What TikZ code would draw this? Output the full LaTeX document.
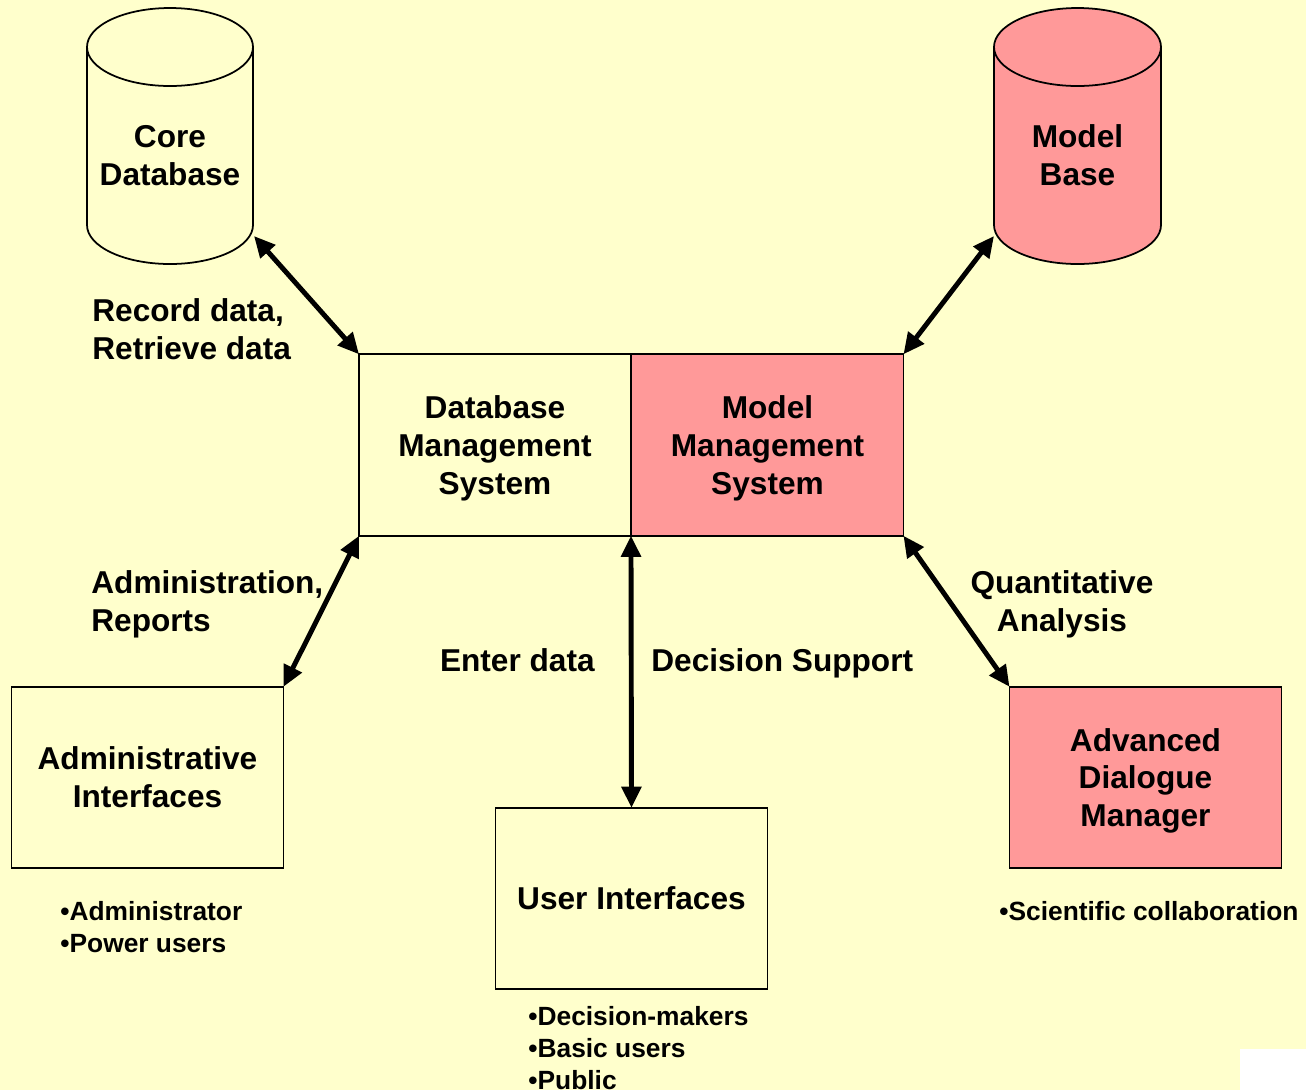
\documentclass[tikz,border=0pt]{standalone}
\usepackage{fontspec}
\setmainfont{Liberation Sans}
\usetikzlibrary{arrows.meta}
\definecolor{paper}{HTML}{FFFFCC}
\definecolor{salmon}{HTML}{FF9999}

\begin{document}
\begin{tikzpicture}[x=0.02cm,y=0.02cm,
  box/.style={draw,line width=1pt,outer sep=0pt,minimum width=5.44cm,minimum height=3.63cm,align=center,text depth=0pt,font=\bfseries\fontsize{18}{21.6}\selectfont},
  lbl/.style={inner sep=0pt,text depth=0pt,font=\bfseries\fontsize{18}{21.6}\selectfont},
  note/.style={inner sep=0pt,align=left,anchor=west,font=\bfseries\fontsize{15}{18}\selectfont},
  link/.style={line width=2.8pt,{Triangle[length=12pt,width=11pt]}-{Triangle[length=12pt,width=11pt]}}]
\useasboundingbox (0,0) rectangle (1306,-1090);
\fill [paper] (0,0) rectangle (1306,-1090);
\fill [white] (1240,-1049) rectangle (1306,-1090);

% the two stores
\draw [line width=1pt] (87,-47) -- (87,-225) arc [start angle=180,end angle=360,x radius=83,y radius=39] -- (253,-47) arc [start angle=0,end angle=180,x radius=83,y radius=39] -- cycle;
\draw [line width=1pt] (87,-47) arc [start angle=180,end angle=360,x radius=83,y radius=39];
\draw [line width=1pt,fill=salmon] (994,-47) -- (994,-225) arc [start angle=180,end angle=360,x radius=83.5,y radius=39] -- (1161,-47) arc [start angle=0,end angle=180,x radius=83.5,y radius=39] -- cycle;
\draw [line width=1pt] (994,-47) arc [start angle=180,end angle=360,x radius=83.5,y radius=39];
\node [lbl,align=center] (coreDB) at (170,-155) {Core\\Database};
\node [lbl,align=center] (modelBase) at (1077.5,-155) {Model\\Base};
\coordinate (corePort) at (254,-236);
\coordinate (modelPort) at (994,-236);

% boxes
\node [box] (dbms) at (495,-445) {Database\\Management\\System};
\node [box,fill=salmon] (mms) at (767.5,-445) {Model\\Management\\System};
\node [box] (admin) at (147.5,-777.5) {Administrative\\Interfaces};
\node [box] (ui) at (631.5,-898.5) {User Interfaces};
\node [box,fill=salmon] (adm) at (1145.5,-777.5) {Advanced\\Dialogue\\Manager};

\draw [link] (corePort) -- (dbms.north west);
\draw [link] (modelPort) -- (mms.north east);
\draw [link] (dbms.south west) -- (admin.north east);
\draw [link] (dbms.south east) -- (ui.north);
\draw [link] (mms.south east) -- (adm.north west);

\node [lbl,align=left,anchor=west] (recLbl) at (92,-329) {Record data,\\Retrieve data};
\node [lbl,align=left,anchor=west] (adminLbl) at (91,-601) {Administration,\\Reports};
\node [lbl,anchor=east] (enterLbl) at (595,-660) {Enter data};
\node [lbl,anchor=west] (decLbl) at (651,-660) {Decision Support};
\node [lbl,align=center] (quantLbl) at (1062,-601) {Quantitative\\Analysis};

\node [note] (adminNote) at (60,-927) {•Administrator\\•Power users};
\node [note] (uiNote) at (528,-1048) {•Decision-makers\\•Basic users\\•Public};
\node [note] (admNote) at (999,-911) {•Scientific collaboration};
\end{tikzpicture}
\end{document}
